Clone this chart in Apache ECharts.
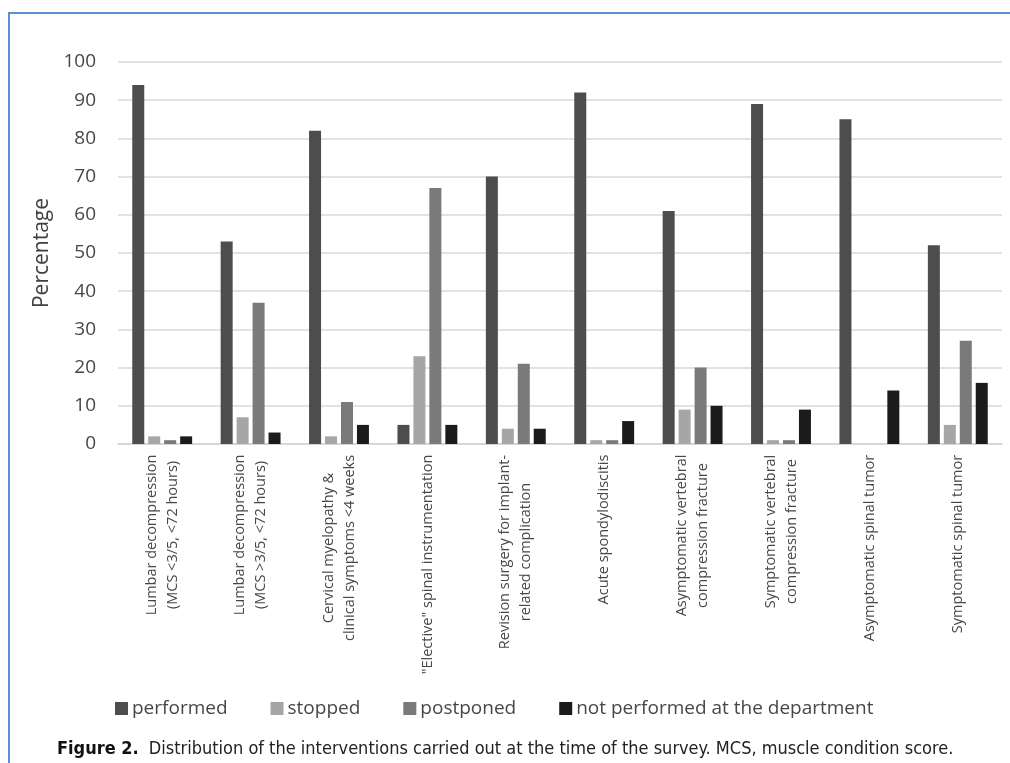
<!DOCTYPE html>
<html>
<head>
<meta charset="utf-8">
<script src="https://cdn.jsdelivr.net/npm/echarts@6/dist/echarts.min.js"></script>
<style>
  html, body { margin: 0; padding: 0; background: #fff; }
  #wrap { position: relative; width: 1010px; height: 763px; overflow: hidden; }
  #frame { position: absolute; left: 8px; top: 12px; right: -10px; bottom: -10px;
           border-top: 2px solid #5a8fd2; border-left: 2px solid #5a8fd2; }
  #chart { position: absolute; left: 0; top: 0; width: 1010px; height: 763px; }
</style>
</head>
<body>
<div id="wrap">
  <div id="frame"></div>
  <div id="chart"></div>
</div>
<script>
// Interventions (axis categories), lines split as printed
const categories = [
  'Lumbar decompression\n(MCS <3/5, <72 hours)',
  'Lumbar decompression\n(MCS >3/5, <72 hours)',
  'Cervical myelopathy &\nclinical symptoms <4 weeks',
  '"Elective" spinal instrumentation',
  'Revision surgery for implant-\nrelated complication',
  'Acute spondylodiscitis',
  'Asymptomatic vertebral\ncompression fracture',
  'Symptomatic vertebral\ncompression fracture',
  'Asymptomatic spinal tumor',
  'Symptomatic spinal tumor'
];

const seriesNames = ['performed', 'stopped', 'postponed', 'not performed at the department'];

// Percentages per intervention
const performed    = [94, 53, 82,  5, 70, 92, 61, 89, 85, 52];
const stopped      = [ 2,  7,  2, 23,  4,  1,  9,  1,  0,  5];
const postponed    = [ 1, 37, 11, 67, 21,  1, 20,  1,  0, 27];
const notPerformed = [ 2,  3,  5,  5,  4,  6, 10,  9, 14, 16];

const yTicks = { min: 0, max: 100, interval: 10 };

const caption = 'Distribution of the interventions carried out at the time of the survey. MCS, muscle condition score.';

const colors = ['#4d4d4d', '#a6a6a6', '#7a7a7a', '#1b1b1b'];
const textColor = '#474747';
const labelFont = '"Open Sans", "DejaVu Sans", sans-serif';
const captionFont = '"Liberation Sans Narrow", "DejaVu Sans Condensed", sans-serif';
const labelSize = 14.5;

// Measure each category label so its lines can be centred on each other
const ctx = document.createElement('canvas').getContext('2d');
ctx.font = labelSize + 'px ' + labelFont;
const rich = {};
categories.forEach((c, i) => {
  const w = Math.max(...c.split('\n').map(l => ctx.measureText(l).width));
  rich['c' + i] = {
    width: Math.ceil(w) + 1,
    align: 'center',
    fontSize: labelSize,
    fontFamily: labelFont,
    color: textColor,
    lineHeight: 21
  };
});

const chart = echarts.init(document.getElementById('chart'), null, { renderer: 'canvas' });

const dataSets = [performed, stopped, postponed, notPerformed];

chart.setOption({
  backgroundColor: 'transparent',
  animation: false,
  color: colors,
  title: {
    left: 52,
    top: 735,
    text: '{b|Figure 2.}  {n|' + caption + '}',
    textStyle: {
      fontWeight: 'normal',
      rich: {
        b: { fontFamily: captionFont, fontWeight: 'bold', fontSize: 18, color: '#111' },
        n: { fontFamily: captionFont, fontWeight: 'normal', fontSize: 18, color: '#222' }
      }
    }
  },
  legend: {
    left: 110,
    top: 694,
    icon: 'rect',
    itemWidth: 13,
    itemHeight: 13,
    itemGap: 43,
    textStyle: { fontFamily: labelFont, fontSize: 19, color: textColor, padding: [0, 0, 0, -1] },
    data: seriesNames
  },
  grid: { left: 118, right: 8, top: 62, bottom: 319, containLabel: false },
  xAxis: {
    type: 'category',
    data: categories,
    axisLine: { lineStyle: { color: '#d4d4d4', width: 1.5 } },
    axisTick: { show: false },
    axisLabel: {
      interval: 0,
      rotate: 90,
      margin: 10,
      formatter: (v, i) => v.split('\n').map(l => '{c' + i + '|' + l + '}').join('\n'),
      rich: rich
    }
  },
  yAxis: {
    type: 'value',
    min: yTicks.min,
    max: yTicks.max,
    interval: yTicks.interval,
    name: 'Percentage',
    nameLocation: 'middle',
    nameRotate: 90,
    nameGap: 64,
    nameTextStyle: { fontFamily: labelFont, fontSize: 21, color: '#404040' },
    axisLine: { show: false },
    axisTick: { show: false },
    splitLine: { lineStyle: { color: '#d9d9d9', width: 1.5 } },
    axisLabel: { fontFamily: labelFont, fontSize: 19, color: textColor, margin: 22 }
  },
  series: seriesNames.map((name, k) => ({
    name: name,
    type: 'bar',
    data: dataSets[k],
    barWidth: 12,
    barGap: '33%',
    itemStyle: { color: colors[k] }
  }))
});
</script>
</body>
</html>
